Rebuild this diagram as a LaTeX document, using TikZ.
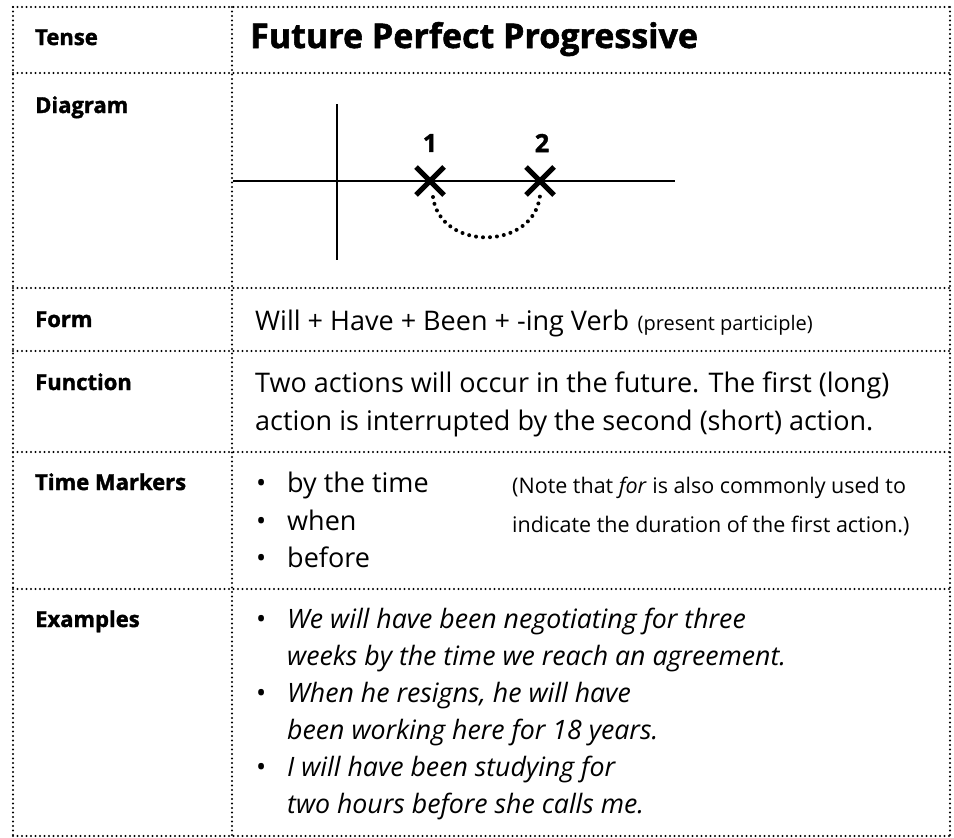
\documentclass[tikz,border=0pt]{standalone}
\usepackage{fontspec}
\setmainfont{Open Sans}
\newfontfamily\heavy[FakeBold=1.6]{Open Sans}[UprightFont={* Bold}]
\usetikzlibrary{positioning,calc}
\tikzset{
  grid/.style={line width=2.2pt, dash pattern=on 0pt off 4.5pt, line cap=round},
  lab/.style={anchor=base west, inner sep=0pt, font=\fontsize{22}{26}\heavy},
  txt/.style={anchor=base west, inner sep=0pt, font=\fontsize{27}{32}\selectfont},
  note/.style={anchor=base west, inner sep=0pt, font=\fontsize{21.5}{26}\selectfont},
  ex/.style={anchor=base west, inner sep=0pt, font=\fontsize{26.7}{32}\selectfont\itshape},
  cross/.style={line width=5pt}
}
\begin{document}
\begin{tikzpicture}[x=1pt, y=-1pt]
\useasboundingbox (0,0) rectangle (954,838);
% table lines
\foreach \y in {7,73,288,351,452,589,836}
{
    \draw[grid] (13,\y)--(950,\y);
}
\foreach \x in {13,232,950}
{
    \draw[grid] (\x,7)--(\x,836);
}
% left column
\node[lab] (tense) at (35,45) {Tense};
\node[lab] (diagram) at (35,113) {Diagram};
\node[lab] (form) at (35,327) {Form};
\node[lab] (function) at (35,390) {Function};
\node[lab] (markers) at (35,490) {Time Markers};
\node[lab] (examples) at (35,627) {Examples};
% title
\node[anchor=base west, inner sep=0pt, font=\fontsize{34}{38}\heavy] (title) at (250,48) {Future Perfect Progressive};
% diagram
\coordinate (tl) at (233,181);
\coordinate (tr) at (675,181);
\coordinate (vt) at (337,104);
\coordinate (vb) at (337,260);
\draw[line width=1.4pt] (tl)--(tr);
\draw[line width=1.4pt] (vt)--(vb);
\coordinate (x1) at (430,181);
\coordinate (x2) at (540,181);
\foreach \p in {x1,x2}
{
    \draw[cross] ($(\p)+(-14,-14)$)--($(\p)+(14,14)$);
    \draw[cross] ($(\p)+(-14,14)$)--($(\p)+(14,-14)$);
}
\node[font=\fontsize{25}{28}\heavy] (one) at (430,143) {1};
\node[font=\fontsize{25}{28}\heavy] (two) at (542,143) {2};
\draw[line width=4pt, dash pattern=on 0pt off 7pt, line cap=round] (433,197) .. controls (440,251) and (533,251) .. (540,196);
% form
\node[txt] (formtxt) at (255,330) {Will + Have + Been + -ing Verb};
\node[anchor=base west, inner sep=0pt, font=\fontsize{20}{24}\selectfont, right=8pt of formtxt.base east, anchor=base west] (part) {(present participle)};
% function
\node[txt] (fun1) at (255,392) {Two actions will occur in the future. The first (long)};
\node[txt] (fun2) at (255,430) {action is interrupted by the second (short) action.};
% time markers
\foreach \t [count=\i] in {by the time, when, before}
{
    \node[txt] (bul\i) at (256,455+37.5*\i) {•};
    \node[txt] (tm\i) at (287,455+37.5*\i) {\t};
}
\node[note] (note1) at (512,493) {(Note that \textit{for} is also commonly used to};
\node[note] (note2) at (512,532) {indicate the duration of the first action.)};
% examples
\foreach \i in {0,2,4}
{
    \node[txt] (exb\i) at (256,628+37*\i) {•};
}
\node[ex] (ex1) at (287,628) {We will have been negotiating for three};
\node[ex] (ex2) at (287,665) {weeks by the time we reach an agreement.};
\node[ex] (ex3) at (287,702) {When he resigns, he will have};
\node[ex] (ex4) at (287,739) {been working here for 18 years.};
\node[ex] (ex5) at (287,776) {I will have been studying for};
\node[ex] (ex6) at (287,813) {two hours before she calls me.};
\end{tikzpicture}
\end{document}
